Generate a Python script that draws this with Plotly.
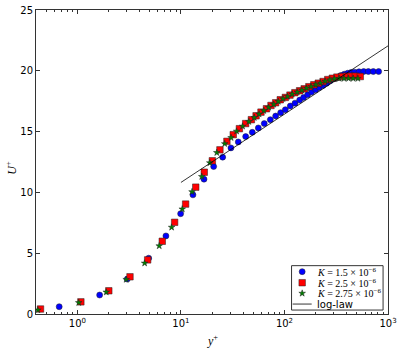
import plotly.graph_objects as go

# ---- data ----
blue_x = [0.667, 1.64, 3.03, 4.88, 7.16, 9.93, 13.06, 16.7, 20.7, 25.3,
          30.4, 35.8, 42.2, 48.9, 55.9, 63.8, 73.0, 82.2, 91.9, 101.9,
          113.8, 126.3, 140.2, 153, 167.4, 183, 200, 216.8, 235.5, 255.6,
          277.3, 300.8, 326.4, 351.5, 378.6, 408, 439.5, 476, 525, 582,
          646, 721, 812]
blue_y = [0.6, 1.56, 2.87, 4.59, 6.42, 8.25, 9.8, 11.09, 12.13, 12.9,
          13.66, 14.15, 14.59, 14.94, 15.3, 15.66, 15.98, 16.28, 16.56, 16.8,
          17.1, 17.34, 17.59, 17.81, 18.03, 18.25, 18.44, 18.63, 18.8, 18.98,
          19.18, 19.34, 19.48, 19.61, 19.72, 19.8, 19.86, 19.89, 19.92, 19.94,
          19.94, 19.94, 19.94]

red_x = [0.44, 1.08, 2.01, 3.22, 4.77, 6.6, 8.69, 11.1, 13.9, 16.8,
         20.1, 23.8, 27.8, 32, 36.7, 42.2, 47.9, 53.2, 59.3, 67.0,
         74.1, 82.2, 91.1, 102, 113, 126, 140, 155, 172, 192,
         212, 236, 262, 290, 321, 357, 397, 439, 484, 540]
red_y = [0.41, 1.0, 1.91, 3.06, 4.45, 5.98, 7.54, 9.04, 10.43, 11.66,
         12.6, 13.5, 14.2, 14.75, 15.24, 15.66, 15.98, 16.3, 16.6, 16.88,
         17.15, 17.37, 17.62, 17.81, 18.0, 18.2, 18.36, 18.52, 18.69, 18.85,
         18.98, 19.12, 19.28, 19.39, 19.48, 19.53, 19.56, 19.56, 19.56, 19.53]

green_x = [0.415, 1.03, 1.90, 2.96, 4.46, 6.17, 8.13, 10.3, 12.8, 15.9,
           19.0, 22.2, 26.5, 30.5, 34.5, 39.4, 45.3, 51.1, 56.9, 63.2,
           70.4, 78.8, 87.3, 96.9, 107.3, 118.8, 133, 147.5, 163.7, 181,
           201, 223, 248, 275, 304, 338, 376, 416, 461, 512]
green_y = [0.33, 0.93, 1.80, 2.84, 4.18, 5.6, 7.13, 8.63, 10.05, 11.3,
           12.43, 13.27, 14.0, 14.5, 15.03, 15.44, 15.82, 16.15, 16.44, 16.72,
           16.99, 17.24, 17.48, 17.7, 17.89, 18.08, 18.25, 18.41, 18.57, 18.71,
           18.87, 19.0, 19.14, 19.25, 19.34, 19.37, 19.37, 19.37, 19.37, 19.37]

loglaw_x = [10, 1000]
loglaw_y = [10.82, 22.05]

series_names = ["<i>K</i> = 1.5 × 10<sup>−6</sup>",
                "<i>K</i> = 2.5 × 10<sup>−6</sup>",
                "<i>K</i> = 2.75 × 10<sup>−6</sup>",
                "log-law"]

x_tickvals = [1, 10, 100, 1000]
x_ticktext = ["10<sup>0</sup>", "10<sup>1</sup>", "10<sup>2</sup>", "10<sup>3</sup>"]
x_minor_tickvals = [0.4, 0.5, 0.6, 0.7, 0.8, 0.9,
                    2, 3, 4, 5, 6, 7, 8, 9,
                    20, 30, 40, 50, 60, 70, 80, 90,
                    200, 300, 400, 500, 600, 700, 800, 900]
y_tickvals = [0, 5, 10, 15, 20, 25]

SANS = "DejaVu Sans"
SERIF = "Liberation Serif"

styles = [
    dict(symbol="circle", color="#0000ff", size=6),
    dict(symbol="square", color="#ff0000", size=6.5),
    dict(symbol="star", color="#008000", size=5),
]
edge = dict(color="#222222", width=0.5)

fig = go.Figure()
for (xs, ys), st in zip([(blue_x, blue_y), (red_x, red_y), (green_x, green_y)], styles):
    fig.add_trace(go.Scatter(x=xs, y=ys, mode="markers", showlegend=False,
                             marker=dict(symbol=st["symbol"], color=st["color"],
                                         size=st["size"], line=edge)))
fig.add_trace(go.Scatter(x=loglaw_x, y=loglaw_y, mode="lines", showlegend=False,
                         line=dict(color="black", width=0.8)))

# ---- custom compact legend (matplotlib-like) on a helper axis pair ----
leg_rows = [0.865, 0.616, 0.377, 0.135]
leg_mark_x = 0.116
leg_text_x = 0.255
for st, ry in zip(styles, leg_rows[:3]):
    fig.add_trace(go.Scatter(x=[leg_mark_x], y=[ry], xaxis="x2", yaxis="y2",
                             mode="markers", showlegend=False, hoverinfo="skip",
                             marker=dict(symbol=st["symbol"], color=st["color"],
                                         size=st["size"], line=edge)))
fig.add_trace(go.Scatter(x=[0.012, 0.22], y=[leg_rows[3]] * 2, xaxis="x2", yaxis="y2",
                         mode="lines", showlegend=False, hoverinfo="skip",
                         line=dict(color="black", width=0.8)))
for name, ry in zip(series_names, leg_rows):
    fig.add_annotation(x=leg_text_x, y=ry, xref="x2", yref="y2", text=name,
                       showarrow=False, xanchor="left", yanchor="middle",
                       font=dict(family=SANS if name == "log-law" else SERIF,
                                 size=10, color="black"))

# axis titles
fig.add_annotation(x=0.5, y=-0.088, xref="paper", yref="paper",
                   text="<i>y</i><sup>+</sup>", showarrow=False,
                   xanchor="center", yanchor="middle",
                   font=dict(family=SERIF, size=12, color="black"))
fig.add_annotation(x=-0.072, y=0.48, xref="paper", yref="paper",
                   text="<i>U</i><sup>+</sup>", showarrow=False, textangle=-90,
                   xanchor="center", yanchor="middle",
                   font=dict(family=SERIF, size=12, color="black"))

axis_common = dict(showline=True, linecolor="#333333", linewidth=1, mirror="allticks",
                   ticks="inside", ticklen=4, tickcolor="#333333", showgrid=False,
                   zeroline=False, automargin=False,
                   tickfont=dict(family=SANS, size=10, color="black"))

fig.update_layout(
    width=400, height=350,
    margin=dict(l=36, r=12, t=10, b=36),
    paper_bgcolor="white", plot_bgcolor="white",
    showlegend=False,
    xaxis=dict(type="log", range=[-0.4, 3], tickvals=x_tickvals, ticktext=x_ticktext,
               minor=dict(ticks="inside", ticklen=2, tickcolor="#333333", showgrid=False,
                          tickmode="array", tickvals=x_minor_tickvals),
               **axis_common),
    yaxis=dict(range=[0, 25], tickvals=y_tickvals, **axis_common),
    xaxis2=dict(domain=[0.726, 0.986], range=[0, 1], visible=False, anchor="y2"),
    yaxis2=dict(domain=[0.013, 0.159], range=[0, 1], visible=False, anchor="x2"),
    shapes=[dict(type="rect", xref="paper", yref="paper", x0=0.726, x1=0.986,
                 y0=0.013, y1=0.159, line=dict(color="#333333", width=1),
                 fillcolor="rgba(0,0,0,0)", layer="above")],
)

fig.write_html("out.html")
